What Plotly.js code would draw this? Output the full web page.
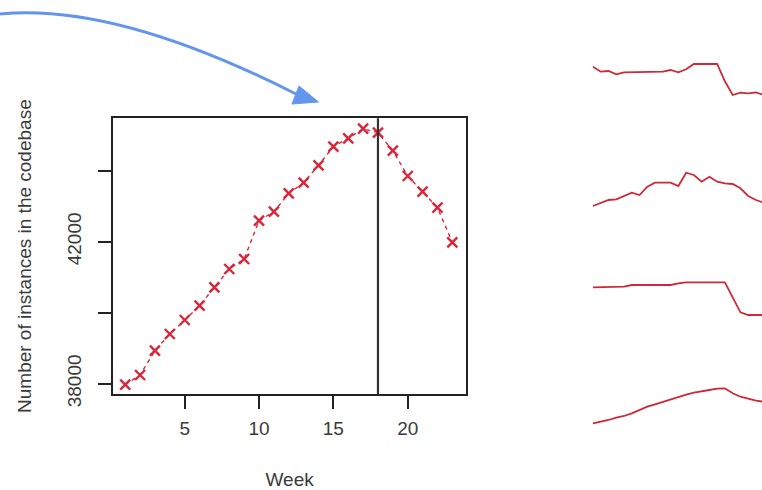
<!DOCTYPE html>
<html>
<head>
<meta charset="utf-8">
<script src="https://cdn.plot.ly/plotly-3.0.1.min.js"></script>
<style>html,body{margin:0;padding:0;background:#fff;}#chart{width:762px;height:490px;}</style>
</head>
<body>
<div id="chart"></div>
<script>
// Main chart data
const weeks = [1,2,3,4,5,6,7,8,9,10,11,12,13,14,15,16,17,18,19,20,21,22,23];
const instances = [37972,38245,38930,39400,39794,40197,40715,41231,41513,42592,42845,43363,43662,44152,44676,44913,45183,45070,44563,43851,43408,42958,41983];
const markerWeek = 18;
const yTickVals = [38000,40000,42000,44000];
const yTickText = ['38000','','42000',''];
const xTickVals = [5,10,15,20];

// Sparklines (relative heights, one value per week)
const sparkWeeks = weeks;
const spark1 = [33.3,28.3,29,25.7,27.7,27.7,27.7,27.7,27.7,28.3,30,27.7,30.7,36,36,36,36,18.7,5,7.3,6.7,7.7,5];
const spark2 = [4,7.3,10,10.7,14,17.3,15,23.3,27.3,27.3,27.3,24,37.3,35,28.3,33.3,28.3,26.7,26,21.7,14,10,7.3];
const spark3 = [32.7,32.7,32.7,32.7,33.3,35,35,35,35,35,35,36.7,37.7,37.7,37.7,37.7,37.7,37.7,22.7,7.7,5,5,5];
const spark4 = [4.7,6.3,8,10.3,12,14.7,18,21.3,23.7,26.3,28.7,31.3,33.3,35.3,37,38,39.3,39.7,34.7,31.3,29.3,27.3,26.3];

const red = '#d8263a';
const sparkRed = '#cc2a36';
const textCol = '#3a3a3a';
const W = 762, H = 490;
const font = {family: '"Liberation Sans", Arial, sans-serif', size: 19, color: textCol};

const traces = [
  {
    x: weeks, y: instances, type: 'scatter', mode: 'lines+markers',
    xaxis: 'x', yaxis: 'y',
    line: {color: red, width: 1.4, dash: '4px,4px'},
    marker: {symbol: 'x-thin-open', size: 10, color: red, line: {color: red, width: 2.4}},
    hoverinfo: 'skip'
  }
];
const sparks = [spark1, spark2, spark3, spark4];
sparks.forEach((s, i) => {
  traces.push({
    x: sparkWeeks, y: s, type: 'scatter', mode: 'lines',
    xaxis: 'x2', yaxis: 'y' + (i + 2),
    line: {color: sparkRed, width: 1.8},
    hoverinfo: 'skip'
  });
});

// band positions in px (top, bottom)
const bands = [[55,100],[165,210],[275,320],[383,428]];
const hiddenAxis = (extra) => Object.assign({visible: false, showgrid: false, zeroline: false, fixedrange: true}, extra);

const layout = {
  width: W, height: H,
  margin: {l: 0, r: 0, t: 0, b: 0},
  paper_bgcolor: '#fff', plot_bgcolor: 'rgba(0,0,0,0)',
  showlegend: false,
  font: font,
  xaxis: {
    domain: [113.3 / W, 466 / W], range: [0.2, 23.92],
    tickvals: xTickVals, ticks: 'outside', ticklen: 13, tickwidth: 2, tickcolor: '#222',
    ticklabelstandoff: 3,
    showline: true, mirror: true, linecolor: '#222', linewidth: 2,
    showgrid: false, zeroline: false, fixedrange: true,
    tickfont: font,
    title: {text: 'Week', font: font, standoff: 43}
  },
  yaxis: {
    domain: [1 - 394 / H, 1 - 118.3 / H], range: [37710, 45476],
    tickvals: yTickVals, ticktext: yTickText, tickangle: -90,
    ticks: 'outside', ticklen: 13, tickwidth: 2, tickcolor: '#222',
    ticklabelstandoff: 10,
    showline: true, mirror: true, linecolor: '#222', linewidth: 2,
    showgrid: false, zeroline: false, fixedrange: true,
    tickfont: font,
    title: {text: 'Number of instances in the codebase', font: font, standoff: 27}
  },
  xaxis2: hiddenAxis({domain: [(593 - 0.8) / W, 1], range: [0.9, 1 + 169 / 7.76], anchor: 'y2'}),
  xaxis3: hiddenAxis({domain: [0, 1], range: [0, W], anchor: 'y6'}),
  yaxis6: hiddenAxis({domain: [0, 1], range: [H, 0], anchor: 'x3'}),
  shapes: [
    {type: 'line', xref: 'x', yref: 'y domain', x0: markerWeek, x1: markerWeek, y0: 0, y1: 1,
     line: {color: '#333', width: 2.2}},
    {type: 'path', xref: 'x3', yref: 'y6', path: 'M 0 14 C 60 8, 150 20, 296 94',
     line: {color: '#6495ed', width: 3}},
    {type: 'path', xref: 'x3', yref: 'y6', path: 'M 292 104 L 299 86 L 318.5 102 Z',
     fillcolor: '#6495ed', line: {color: '#6495ed', width: 1}}
  ]
};
bands.forEach((b, i) => {
  layout['yaxis' + (i + 2)] = hiddenAxis({domain: [1 - b[1] / H, 1 - b[0] / H], range: [0, 45], anchor: 'x2'});
});

Plotly.newPlot('chart', traces, layout, {staticPlot: true, displayModeBar: false});
</script>
</body>
</html>
